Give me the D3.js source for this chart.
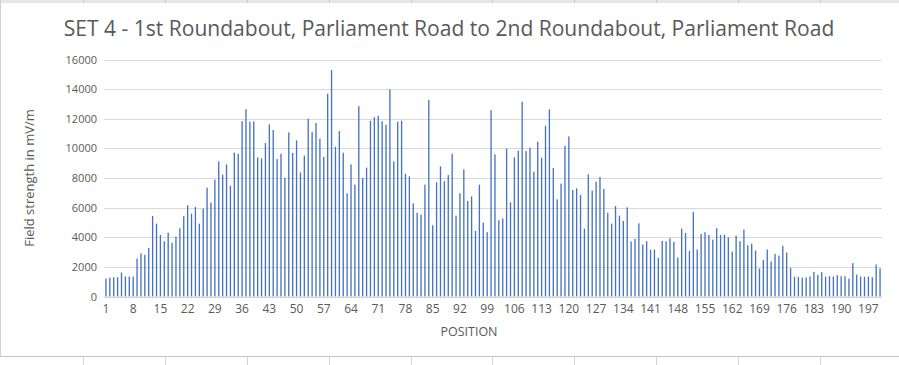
<!DOCTYPE html>
<html><head><meta charset="utf-8">
<script src="https://cdn.jsdelivr.net/npm/d3@7"></script>
<style>html,body{margin:0;padding:0;background:#fff;}svg{display:block;}</style>
</head><body>
<svg id="c" width="899" height="365"></svg>
<script>
const title = "SET 4 - 1st Roundabout, Parliament Road to 2nd Roundabout, Parliament Road";
const xTitle = "POSITION";
const yTitle = "Field strength in mV/m";
const yTicks = [0, 2000, 4000, 6000, 8000, 10000, 12000, 14000, 16000];
const values = [
 1210,1280,1300,1300,1620,1350,1350,1350,2560,2900,
 2810,3280,5440,4920,4160,3730,4310,3620,4040,4610,
 5420,6160,5600,6040,4920,5930,7350,6340,7890,9120,
 8220,8920,7480,9710,9640,11840,12650,11800,11820,9390,
 9330,10360,11620,11240,9280,9640,8020,11080,9690,10540,
 8380,9510,12000,11100,11710,10650,9420,13690,15280,10110,
 11170,9710,6970,8920,7550,12850,8000,8700,11870,12110,
 12200,11840,11600,13980,9120,11800,11870,8290,8110,6290,
 5660,5530,7550,13280,4810,7710,8790,7780,8200,9640,
 5460,6970,8580,6450,6760,4430,7550,4990,4340,12580,
 9600,5150,5260,9980,6360,9390,9840,13150,9820,10040,
 8430,10450,9370,11530,12630,8670,6560,7620,10180,10810,
 7190,7300,6850,4580,8250,7150,7750,8070,7260,5660,
 4920,6110,5460,5100,6020,3710,3890,4940,3510,3730,
 3150,3170,2610,3750,3730,3930,3690,2630,4580,4290,
 3080,5710,3170,4220,4340,4160,3840,4610,4160,4180,
 4000,3030,4110,3730,4520,3460,3570,3100,1890,2470,
 3170,2360,2880,2760,3420,2970,1930,1330,1330,1280,
 1280,1350,1660,1460,1640,1330,1370,1350,1440,1370,
 1370,1210,2250,1480,1350,1330,1350,1300,2160,1890
];
const positions = values.map((v,i)=>i+1);
const tickPositions = positions.filter(p => (p-1) % 7 === 0);

const svg = d3.select("#c");
const font = "'Open Sans', sans-serif";
const txt = "#595959";

// spreadsheet surroundings
svg.append("rect").attr("x",0).attr("y",0).attr("width",899).attr("height",365).attr("fill","#ffffff");
svg.append("rect").attr("x",0).attr("y",0).attr("width",899).attr("height",3).attr("fill","#e6e6e6");
const cellX = [83,165,247,329,411,492,574,656,738,820];
svg.selectAll(".ct").data(cellX).join("line").attr("x1",d=>d+0.5).attr("x2",d=>d+0.5).attr("y1",0).attr("y2",3).attr("stroke","#c8c8c8");
svg.append("line").attr("x1",0).attr("x2",899).attr("y1",356.5).attr("y2",356.5).attr("stroke","#c6c6c6");
svg.selectAll(".cb").data(cellX).join("line").attr("x1",d=>d+0.5).attr("x2",d=>d+0.5).attr("y1",357).attr("y2",365).attr("stroke","#d4d4d4");
svg.append("line").attr("x1",0.5).attr("x2",0.5).attr("y1",0).attr("y2",357).attr("stroke","#d0d0d0");

const x = d3.scaleBand().domain(positions).range([104, 882]).paddingInner(0.66).paddingOuter(0.33);
const y = d3.scaleLinear().domain([0,16000]).range([296.5, 59.5]);

// gridlines
svg.append("g").selectAll("line").data(yTicks).join("line")
  .attr("x1",104).attr("x2",882)
  .attr("y1",d=>Math.round(y(d))+0.5).attr("y2",d=>Math.round(y(d))+0.5)
  .attr("stroke","#d9d9d9").attr("stroke-width",1);

// bars
svg.append("g").selectAll("rect").data(values).join("rect")
  .attr("x",(d,i)=>x(positions[i]))
  .attr("width",x.bandwidth())
  .attr("y",d=>y(d))
  .attr("height",d=>y(0)-y(d))
  .attr("fill","#4472C4");

// y axis labels
const yAxis = d3.axisLeft(y).tickValues(yTicks).tickSize(0).tickPadding(7).tickFormat(d3.format("d"));
const gy = svg.append("g").attr("transform","translate(104,0)").call(yAxis);
gy.select(".domain").remove();
gy.selectAll("text").attr("font-family",font).attr("font-size","11px").attr("fill",txt);

// x axis labels
const xAxis = d3.axisBottom(x).tickValues(tickPositions).tickSize(0).tickPadding(8);
const gx = svg.append("g").attr("transform","translate(0,296.5)").call(xAxis);
gx.select(".domain").attr("stroke","#d9d9d9");
gx.selectAll("text").attr("font-family",font).attr("font-size","12px").attr("fill",txt);

// titles
const t = svg.append("text").attr("x",449).attr("y",36).attr("text-anchor","middle")
  .attr("font-family",font).attr("font-size","19px").attr("fill",txt).text(title);
const tw = t.node().getComputedTextLength();
t.attr("font-size", (19*771/tw).toFixed(2)+"px");

svg.append("text").attr("x",469).attr("y",336).attr("text-anchor","middle")
  .attr("font-family",font).attr("font-size","12.5px").attr("fill",txt).text(xTitle);

svg.append("text").attr("transform","translate(34,178) rotate(-90)").attr("text-anchor","middle")
  .attr("font-family",font).attr("font-size","13px").attr("fill",txt).text(yTitle);
</script>
</body></html>
